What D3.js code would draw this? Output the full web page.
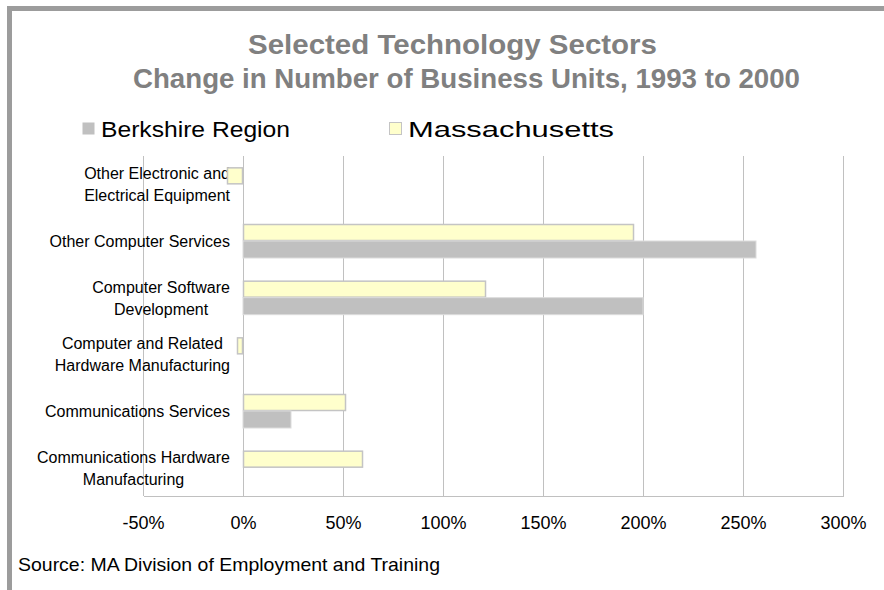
<!DOCTYPE html>
<html>
<head>
<meta charset="utf-8">
<script src="https://cdn.jsdelivr.net/npm/d3@7"></script>
<style>
html,body{margin:0;padding:0;background:#fff;}
svg{display:block;font-family:"Liberation Sans",Arial,sans-serif;}
</style>
</head>
<body>
<svg id="chart" width="884" height="590"></svg>
<script>
const titleLines = ["Selected Technology Sectors", "Change in Number of Business Units, 1993 to 2000"];
const categories = [
  ["Other Electronic and", "Electrical Equipment"],
  ["Other Computer Services"],
  ["Computer Software", "Development"],
  ["Computer and Related", "Hardware Manufacturing"],
  ["Communications Services"],
  ["Communications Hardware", "Manufacturing"]
];
const seriesNames = ["Berkshire Region", "Massachusetts"];
const berkshire = [null, 256.5, 200, null, 24, null];
const massachusetts = [-8, 195.5, 121.5, -3, 51.5, 60];
const tickValues = [-50, 0, 50, 100, 150, 200, 250, 300];
const tickLabels = ["-50%", "0%", "50%", "100%", "150%", "200%", "250%", "300%"];
const sourceText = "Source: MA Division of Employment and Training";

const svg = d3.select("#chart");
const W = 884, H = 590;
const plot = {left: 143, right: 843, top: 156, bottom: 496};

// frame
svg.append("rect").attr("x", 7).attr("y", 6).attr("width", W - 7).attr("height", 5).attr("fill", "#9c9c9c");
svg.append("rect").attr("x", 7).attr("y", 6).attr("width", 5).attr("height", H - 6).attr("fill", "#9c9c9c");

// title
const titleLayout = [{cx: 452.5, y: 54, w: 409}, {cx: 466.5, y: 88, w: 667}];
svg.append("g").selectAll("text").data(titleLines).join("text")
  .attr("x", (d, i) => titleLayout[i].cx).attr("y", (d, i) => titleLayout[i].y)
  .attr("text-anchor", "middle")
  .attr("font-size", 27).attr("font-weight", "bold").attr("fill", "#808080")
  .attr("textLength", (d, i) => titleLayout[i].w).attr("lengthAdjust", "spacingAndGlyphs")
  .text(d => d);

const x = d3.scaleLinear().domain([-50, 300]).range([plot.left, plot.right]);
const y = d3.scaleBand().domain(d3.range(categories.length)).range([plot.top, plot.bottom]).paddingInner(0.4).paddingOuter(0.2);
const sub = d3.scaleBand().domain(["ma", "bk"]).range([0, y.bandwidth()]);

// gridlines
svg.append("g").selectAll("line").data(tickValues).join("line")
  .attr("x1", d => x(d)).attr("x2", d => x(d))
  .attr("y1", plot.top).attr("y2", plot.bottom)
  .attr("stroke", "#c0c0c0").attr("stroke-width", 1).attr("shape-rendering", "crispEdges");

// bottom axis
const axis = svg.append("g").attr("transform", `translate(0,${plot.bottom})`)
  .call(d3.axisBottom(x).tickValues(tickValues).tickSize(0).tickPadding(20)
    .tickFormat((d, i) => tickLabels[i]));
axis.select(".domain").attr("stroke", "#c0c0c0").attr("shape-rendering", "crispEdges");
axis.selectAll("text").attr("font-size", 18).attr("fill", "#000").attr("font-family", "Liberation Sans, Arial, sans-serif");

// category labels
const catG = svg.append("g").selectAll("text").data(categories).join("text")
  .attr("text-anchor", "middle")
  .attr("font-size", 16).attr("fill", "#000");
catG.each(function(lines, i) {
  const t = d3.select(this);
  const cy = y(i) + y.bandwidth() / 2;
  const n = lines.length;
  lines.forEach((ln, j) => {
    t.append("tspan").attr("x", 0).attr("y", cy + 6 + (j - (n - 1) / 2) * 22).text(ln);
  });
});
catG.each(function() {
  const t = d3.select(this);
  let maxW = 0;
  t.selectAll("tspan").each(function() { maxW = Math.max(maxW, this.getComputedTextLength()); });
  t.selectAll("tspan").attr("x", 230 - maxW / 2);
});

// bars
const rowsMA = massachusetts.map((v, i) => ({i, v})).filter(d => d.v != null);
const rowsBK = berkshire.map((v, i) => ({i, v})).filter(d => d.v != null);
svg.append("g").selectAll("rect").data(rowsMA).join("rect")
  .attr("x", d => x(Math.min(0, d.v)) + 0.5)
  .attr("y", d => y(d.i) + sub("ma") + 0.5)
  .attr("width", d => Math.abs(x(d.v) - x(0)) - 1)
  .attr("height", sub.bandwidth() - 1)
  .attr("fill", "#ffffcc").attr("stroke", "#c4c4c4").attr("stroke-width", 1.5);
svg.append("g").selectAll("rect").data(rowsBK).join("rect")
  .attr("x", d => x(Math.min(0, d.v)))
  .attr("y", d => y(d.i) + sub("bk"))
  .attr("width", d => Math.abs(x(d.v) - x(0)))
  .attr("height", sub.bandwidth())
  .attr("fill", "#c0c0c0").attr("stroke", "#dcdcdc").attr("stroke-width", 1);

// legend
const legend = [
  {name: seriesNames[0], x: 82, w: 189, fill: "#c0c0c0", stroke: "none"},
  {name: seriesNames[1], x: 389, w: 206, fill: "#ffffcc", stroke: "#c4c4c4"}
];
const lg = svg.append("g").selectAll("g").data(legend).join("g");
lg.append("rect").attr("x", d => d.x + 0.5).attr("y", 122.5).attr("width", 12).attr("height", 12)
  .attr("fill", d => d.fill).attr("stroke", d => d.stroke);
lg.append("text").attr("x", d => d.x + 19).attr("y", 137).attr("font-size", 22).attr("fill", "#000")
  .attr("textLength", d => d.w).attr("lengthAdjust", "spacingAndGlyphs")
  .text(d => d.name);

// source
svg.append("text").attr("x", 18).attr("y", 571).attr("font-size", 19).attr("fill", "#000")
  .attr("textLength", 422).attr("lengthAdjust", "spacingAndGlyphs")
  .text(sourceText);
</script>
</body>
</html>
